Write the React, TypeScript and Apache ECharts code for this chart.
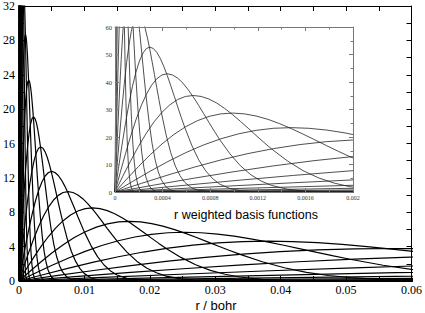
import React, { useEffect, useRef } from "react";
import * as echarts from "echarts";

// Normalised profile of one r-weighted basis function (value / peak value) against r / r_peak,
// read from the curve that peaks near r = 0.011 bohr.
const shapeT = [0, 0.1, 0.2, 0.3, 0.4, 0.5, 0.6, 0.7, 0.8, 0.9, 1.0, 1.1, 1.2, 1.3, 1.4, 1.5, 1.6, 1.7, 1.8, 1.9, 2.0, 2.2, 2.4, 2.6, 2.8, 3.0, 3.3, 3.6, 4.0, 4.5];
const shapeG = [0, 0.164, 0.323, 0.473, 0.609, 0.728, 0.826, 0.903, 0.958, 0.99, 1.0, 0.99, 0.963, 0.921, 0.866, 0.803, 0.733, 0.661, 0.587, 0.515, 0.446, 0.323, 0.222, 0.146, 0.092, 0.055, 0.0235, 0.0091, 0.0022, 0];

// Peak position (bohr) and peak height of each basis function
const peakR = [0.0000385, 0.0000578, 0.0000867, 0.00013, 0.000195, 0.000293, 0.000439, 0.000658, 0.000988, 0.00148, 0.00222, 0.00333, 0.005, 0.0075, 0.01125, 0.0169, 0.0253, 0.038, 0.057, 0.0854, 0.128, 0.192, 0.288, 0.432, 0.649];
const peakH = [145.2, 118.6, 96.8, 79.1, 64.6, 52.7, 43.0, 35.1, 28.7, 23.4, 19.1, 15.6, 12.75, 10.4, 8.5, 6.94, 5.67, 4.63, 3.78, 3.08, 2.52, 2.06, 1.68, 1.37, 1.12];

// Axis ranges / tick steps
const mainX = { min: 0, max: 0.06, step: 0.01 };
const mainY = { min: 0, max: 32, step: 4 };
const insetX = { min: 0, max: 0.002, step: 0.0004 };
const insetY = { min: 0, max: 60, step: 10 };

const SERIF = "'Liberation Serif', 'Times New Roman', Times, serif";
const SANS = "'Liberation Sans', Arial, Helvetica, sans-serif";

const fmt = (v: number) => String(parseFloat(Number(v).toPrecision(6)));

function curve(i: number) {
  const pts = shapeT.map((t, j) => [t * peakR[i], shapeG[j] * peakH[i]]);
  pts.push([100, 0]);
  return pts;
}

function axis(kind: "x" | "y", grid: number, r: any, pos: string, label: boolean, inset: boolean) {
  const c = inset ? "#777" : "#000";
  return {
    type: "value",
    gridIndex: grid,
    position: pos,
    min: r.min,
    max: r.max,
    interval: r.step,
    z: inset ? 6 : 2,
    axisLine: { show: true, onZero: false, lineStyle: { color: c, width: 1 } },
    axisTick: { show: true, inside: true, length: inset ? 4 : 5, lineStyle: { color: c } },
    minorTick: { show: true, splitNumber: 2, length: inset ? 2.5 : 5, lineStyle: { color: c } },
    splitLine: { show: false },
    axisLabel: {
      show: label,
      margin: inset ? 3 : kind === "x" ? 3 : 4,
      fontFamily: SERIF,
      fontSize: inset ? (kind === "x" ? 6 : 6.5) : 12,
      color: inset ? "#333" : "#000",
      formatter: fmt,
    },
  };
}

export default function App() {
  const ref = useRef<HTMLDivElement>(null);
  useEffect(() => {
    if (!ref.current) return;
    const chart = echarts.init(ref.current, undefined, { renderer: "svg" });
    const series: any[] = [];
    peakR.forEach((_, i) => {
      series.push({
        type: "line",
        xAxisIndex: 0,
        yAxisIndex: 0,
        data: curve(i),
        showSymbol: false,
        symbol: "none",
        clip: true,
        silent: true,
        lineStyle: { color: "#000", width: 1.2 },
      });
    });
    peakR.forEach((_, i) => {
      series.push({
        type: "line",
        xAxisIndex: 2,
        yAxisIndex: 2,
        data: curve(i),
        showSymbol: false,
        symbol: "none",
        clip: true,
        silent: true,
        z: 5,
        lineStyle: { color: "#222", width: 0.8 },
      });
    });
    chart.setOption({
      animation: false,
      backgroundColor: "#fff",
      grid: [
        { left: 16, top: 5, width: 399, height: 276 },
        { left: 115, top: 27, width: 238, height: 165, show: true, backgroundColor: "#fff", borderWidth: 0, z: 3 },
      ],
      xAxis: [
        axis("x", 0, mainX, "bottom", true, false),
        axis("x", 0, mainX, "top", false, false),
        axis("x", 1, insetX, "bottom", true, true),
        axis("x", 1, insetX, "top", false, true),
      ],
      yAxis: [
        axis("y", 0, mainY, "left", true, false),
        axis("y", 0, mainY, "right", false, false),
        axis("y", 1, insetY, "left", true, true),
        axis("y", 1, insetY, "right", false, true),
      ],
      graphic: [
        {
          type: "text",
          x: 246,
          y: 215,
          z: 10,
          style: {
            text: "r weighted basis functions",
            fill: "#000",
            font: `12.5px ${SANS}`,
            textAlign: "center",
            align: "center",
            textVerticalAlign: "middle",
            verticalAlign: "middle",
          },
        },
        {
          type: "text",
          x: 216,
          y: 305,
          z: 10,
          style: {
            text: "r / bohr",
            fill: "#000",
            font: `13px ${SANS}`,
            textAlign: "center",
            align: "center",
            textVerticalAlign: "middle",
            verticalAlign: "middle",
          },
        },
      ],
      series,
    });
    return () => chart.dispose();
  }, []);
  return (
    <div
      ref={ref}
      style={{ position: "fixed", left: 0, top: 0, width: 425, height: 313, background: "#fff" }}
    />
  );
}
